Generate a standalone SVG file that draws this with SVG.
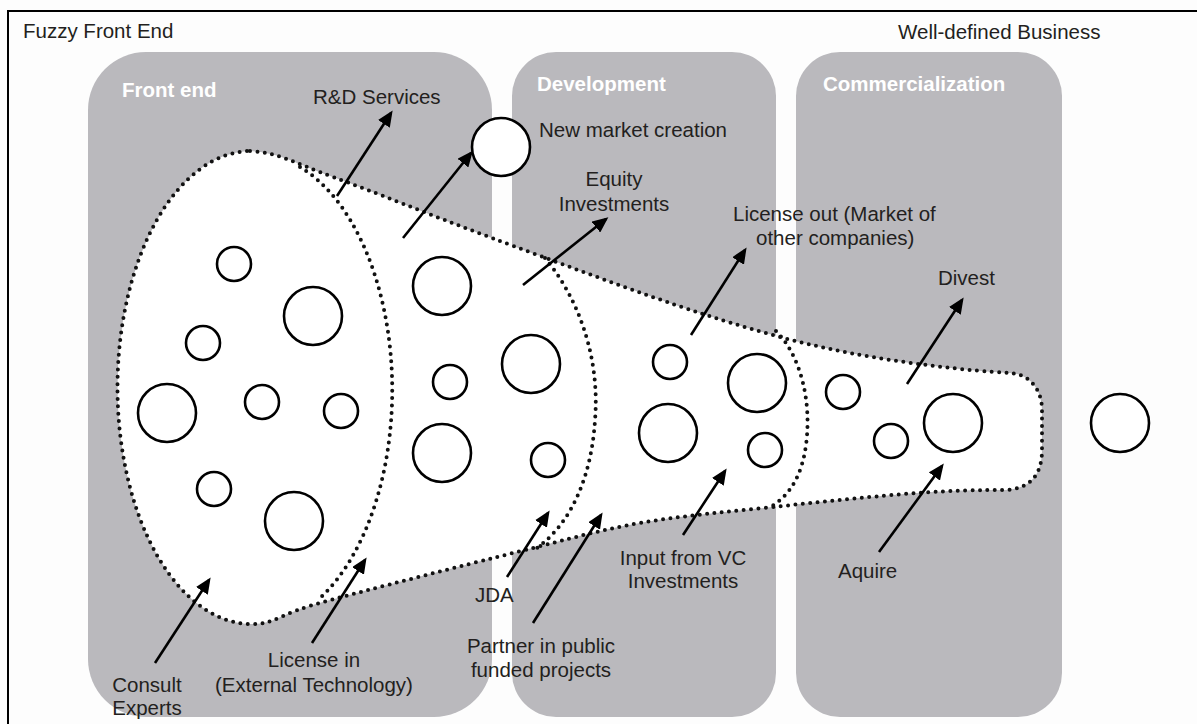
<svg xmlns="http://www.w3.org/2000/svg" width="1197" height="724" viewBox="0 0 1197 724">
  <defs>
    <style>
      .frame { stroke: #000; stroke-width: 2; fill: none; }
      .panel { fill: #bab9bd; }
      .phase { font-family: "Liberation Sans", Arial, sans-serif; font-size: 20.5px; font-weight: bold; fill: #ffffff; }
      .lbl { font-family: "Liberation Sans", Arial, sans-serif; font-size: 20.5px; fill: #231f20; }
      .mid { text-anchor: middle; }
      .dots { fill: none; stroke: #111; stroke-width: 4; stroke-dasharray: 0 7.4; stroke-linecap: round; }
      .idea { fill: #ffffff; stroke: #000; stroke-width: 2.6; }
      .arrow { stroke: #000; stroke-width: 2.6; fill: none; marker-end: url(#head); }
    </style>
    <marker id="head" markerUnits="userSpaceOnUse" markerWidth="16" markerHeight="14" refX="13" refY="7" orient="auto">
      <path d="M0,0 L16,7 L0,14 Z" fill="#000"/>
    </marker>
  </defs>

  <!-- page background and frame -->
  <rect x="0" y="0" width="1197" height="724" fill="#fdfdfd"/>
  <path class="frame" d="M8,724 V11 H1197"/>

  <!-- phase panels -->
  <g id="front-end">
    <rect class="panel" x="88" y="52" width="404" height="665" rx="58" ry="58"/>
    <text class="phase" x="122" y="97">Front end</text>
  </g>
  <g id="development">
    <rect class="panel" x="512" y="52" width="264" height="665" rx="44" ry="44"/>
    <text class="phase" x="537" y="91">Development</text>
  </g>
  <g id="commercialization">
    <rect class="panel" x="796" y="52" width="266" height="665" rx="44" ry="44"/>
    <text class="phase" x="823" y="91">Commercialization</text>
  </g>

  <!-- the funnel: white body with dotted outline and dotted stage dividers -->
  <g id="funnel">
    <path id="funnel-outline" class="dots" style="fill:#ffffff"
      d="M250,151
         C280,153 292.7,162.5 333,177
         C373.3,191.5 430.8,215.3 492,238
         C553.2,260.7 640.3,293.8 700,313
         C759.7,332.2 798.3,343 850,353
         C901.7,363 970,371 1010,373
         C1030,374 1042,390 1042,410
         L1042,450
         C1042,475 1030,489 1005,490
         C980,490 955.7,490.2 917,493
         C878.3,495.8 819.2,502 773,507
         C726.8,512 682.7,515.5 640,523
         C597.3,530.5 569.8,538.8 517,552
         C464.2,565.2 367,590 323,602
         C279,614 275,624 253,624
         A134,236.5 0 0 1 250,151 Z"/>
    <path class="dots" d="M300,167 A137,236 0 0 1 320,598"/>
    <path class="dots" d="M545,258 C580,300 600,360 595,420 C592,470 575,520 537,548"/>
    <path class="dots" d="M776,331 C800,355 812,400 806,445 C802,475 790,495 772,506"/>
  </g>

  <!-- ideas -->
  <g id="ideas">
    <circle class="idea" cx="234" cy="264" r="17"/>
    <circle class="idea" cx="313" cy="316" r="29"/>
    <circle class="idea" cx="203" cy="343" r="17"/>
    <circle class="idea" cx="167" cy="413" r="29"/>
    <circle class="idea" cx="262" cy="402" r="17"/>
    <circle class="idea" cx="341" cy="411" r="17"/>
    <circle class="idea" cx="214" cy="489" r="17"/>
    <circle class="idea" cx="294" cy="521" r="29"/>
    <circle class="idea" cx="442" cy="286" r="29"/>
    <circle class="idea" cx="450" cy="382" r="17"/>
    <circle class="idea" cx="442" cy="453" r="29"/>
    <circle class="idea" cx="531" cy="364" r="29"/>
    <circle class="idea" cx="548" cy="460" r="17"/>
    <circle class="idea" cx="670" cy="362" r="17"/>
    <circle class="idea" cx="668" cy="433" r="29"/>
    <circle class="idea" cx="757" cy="383" r="29"/>
    <circle class="idea" cx="765" cy="450" r="17"/>
    <circle class="idea" cx="843" cy="392" r="17"/>
    <circle class="idea" cx="891" cy="441" r="17"/>
    <circle class="idea" cx="953" cy="423" r="29"/>
    <circle class="idea" cx="1120" cy="423" r="29"/>
    <circle class="idea" cx="501" cy="147" r="29"/>
  </g>

  <!-- connectors -->
  <g id="connectors">
    <line class="arrow" x1="337" y1="196" x2="391" y2="113"/>
    <line class="arrow" x1="403" y1="238" x2="471" y2="153"/>
    <line class="arrow" x1="523" y1="285" x2="606" y2="219"/>
    <line class="arrow" x1="691" y1="335" x2="745" y2="250"/>
    <line class="arrow" x1="907" y1="384" x2="962" y2="300"/>
    <line class="arrow" x1="155" y1="663" x2="209" y2="580"/>
    <line class="arrow" x1="312" y1="643" x2="365" y2="560"/>
    <line class="arrow" x1="507" y1="577" x2="548" y2="513"/>
    <line class="arrow" x1="533" y1="623" x2="601" y2="515"/>
    <line class="arrow" x1="683" y1="535" x2="725" y2="471"/>
    <line class="arrow" x1="879" y1="552" x2="942" y2="466"/>
  </g>

  <!-- labels -->
  <g id="labels">
    <text class="lbl" x="23" y="38">Fuzzy Front End</text>
    <text class="lbl" x="898" y="39">Well-defined Business</text>
    <text class="lbl" x="313" y="104">R&amp;D Services</text>
    <text class="lbl" x="539" y="137">New market creation</text>
    <text class="lbl mid" x="614" y="186">Equity</text>
    <text class="lbl mid" x="614" y="211">Investments</text>
    <text class="lbl" x="733" y="221">License out (Market of</text>
    <text class="lbl" x="756" y="245">other companies)</text>
    <text class="lbl" x="938" y="285">Divest</text>
    <text class="lbl mid" x="147" y="692">Consult</text>
    <text class="lbl mid" x="147" y="715">Experts</text>
    <text class="lbl mid" x="314" y="667">License in</text>
    <text class="lbl mid" x="314" y="692">(External Technology)</text>
    <text class="lbl" x="475" y="602">JDA</text>
    <text class="lbl mid" x="541" y="653">Partner in public</text>
    <text class="lbl mid" x="541" y="677">funded projects</text>
    <text class="lbl mid" x="683" y="565">Input from VC</text>
    <text class="lbl mid" x="683" y="588">Investments</text>
    <text class="lbl" x="838" y="578">Aquire</text>
  </g>
</svg>
